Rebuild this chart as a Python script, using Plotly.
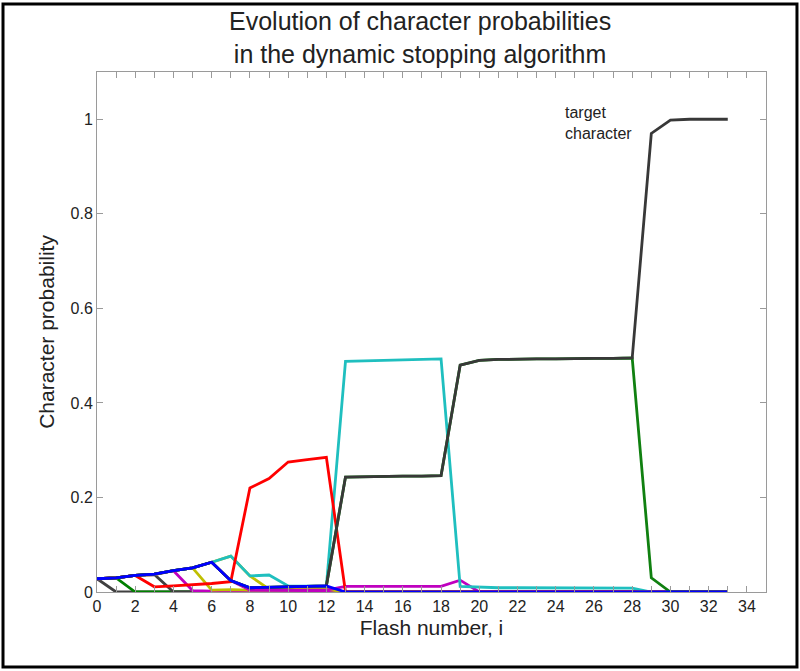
import plotly.graph_objects as go

# flash number i = 0 .. 33
flash = list(range(34))

# character probabilities, one list per character
k_first  = [0.028, 0.0, 0.0, 0.0, 0.0, 0.0, 0.0, 0.0, 0.0, 0.0, 0.0, 0.0, 0.0, 0.0, 0.0, 0.0, 0.0,
            0.0, 0.0, 0.0, 0.0, 0.0, 0.0, 0.0, 0.0, 0.0, 0.0, 0.0, 0.0, 0.0, 0.0, 0.0, 0.0, 0.0]
g_first  = [0.028, 0.030, 0.0, 0.0, 0.0, 0.0, 0.0, 0.0, 0.0, 0.0, 0.0, 0.0, 0.0, 0.0, 0.0, 0.0, 0.0,
            0.0, 0.0, 0.0, 0.0, 0.0, 0.0, 0.0, 0.0, 0.0, 0.0, 0.0, 0.0, 0.0, 0.0, 0.0, 0.0, 0.0]
r_char   = [0.028, 0.030, 0.035, 0.011, 0.013, 0.015, 0.018, 0.022, 0.220, 0.240, 0.275, 0.280, 0.285,
            0.0, 0.0, 0.0, 0.0, 0.0, 0.0, 0.0, 0.0, 0.0, 0.0, 0.0, 0.0, 0.0, 0.0, 0.0, 0.0, 0.0, 0.0, 0.0, 0.0, 0.0]
k_second = [0.028, 0.030, 0.035, 0.037, 0.0, 0.0, 0.0, 0.0, 0.0, 0.0, 0.0, 0.0, 0.0, 0.0, 0.0, 0.0, 0.0,
            0.0, 0.0, 0.0, 0.0, 0.0, 0.0, 0.0, 0.0, 0.0, 0.0, 0.0, 0.0, 0.0, 0.0, 0.0, 0.0, 0.0]
m_first  = [0.028, 0.030, 0.035, 0.037, 0.045, 0.003, 0.002, 0.002, 0.002, 0.002, 0.002, 0.002, 0.002,
            0.0, 0.0, 0.0, 0.0, 0.0, 0.0, 0.0, 0.0, 0.0, 0.0, 0.0, 0.0, 0.0, 0.0, 0.0, 0.0, 0.0, 0.0, 0.0, 0.0, 0.0]
y_first  = [0.028, 0.030, 0.035, 0.037, 0.045, 0.051, 0.004, 0.005, 0.004, 0.004, 0.005, 0.005, 0.006,
            0.0, 0.0, 0.0, 0.0, 0.0, 0.0, 0.0, 0.0, 0.0, 0.0, 0.0, 0.0, 0.0, 0.0, 0.0, 0.0, 0.0, 0.0, 0.0, 0.0, 0.0]
c_char   = [0.028, 0.030, 0.035, 0.038, 0.045, 0.051, 0.063, 0.076, 0.034, 0.036, 0.013, 0.012, 0.012,
            0.488, 0.489, 0.490, 0.491, 0.492, 0.493, 0.012, 0.010, 0.009, 0.009, 0.009, 0.009, 0.008,
            0.008, 0.008, 0.008, 0.0, 0.0, 0.0, 0.0, 0.0]
y_second = [0.028, 0.030, 0.035, 0.038, 0.045, 0.051, 0.063, 0.076, 0.034, 0.006, 0.007, 0.007, 0.008,
            0.0, 0.0, 0.0, 0.0, 0.0, 0.0, 0.0, 0.0, 0.0, 0.0, 0.0, 0.0, 0.0, 0.0, 0.0, 0.0, 0.0, 0.0, 0.0, 0.0, 0.0]
m_second = [0.028, 0.030, 0.035, 0.038, 0.045, 0.051, 0.063, 0.024, 0.004, 0.004, 0.004, 0.004, 0.004,
            0.012, 0.012, 0.012, 0.012, 0.012, 0.012, 0.025, 0.0, 0.0, 0.0, 0.0, 0.0, 0.0, 0.0, 0.0,
            0.0, 0.0, 0.0, 0.0, 0.0, 0.0]
g_second = [0.028, 0.030, 0.035, 0.038, 0.045, 0.051, 0.063, 0.024, 0.009, 0.010, 0.012, 0.012, 0.013,
            0.243, 0.244, 0.244, 0.245, 0.245, 0.246, 0.480, 0.490, 0.492, 0.493, 0.493, 0.493, 0.494,
            0.494, 0.494, 0.495, 0.030, 0.0, 0.0, 0.0, 0.0]
target   = [0.028, 0.030, 0.035, 0.038, 0.045, 0.051, 0.063, 0.024, 0.009, 0.010, 0.012, 0.012, 0.013,
            0.243, 0.244, 0.244, 0.245, 0.245, 0.246, 0.480, 0.490, 0.492, 0.493, 0.493, 0.493, 0.494,
            0.494, 0.494, 0.495, 0.970, 0.998, 1.000, 1.000, 1.000]
b_char   = [0.028, 0.030, 0.035, 0.038, 0.045, 0.051, 0.063, 0.024, 0.009, 0.010, 0.012, 0.012, 0.013,
            0.0, 0.0, 0.0, 0.0, 0.0, 0.0, 0.0, 0.0, 0.0, 0.0, 0.0, 0.0, 0.0, 0.0, 0.0, 0.0, 0.0, 0.0, 0.0, 0.0, 0.0]

# tick marks at every flash, labels on the even ones
x_tickvals = list(range(35))
x_ticktext = [str(v) if v % 2 == 0 else "" for v in x_tickvals]
y_ticks = [0, 0.2, 0.4, 0.6, 0.8, 1]

series = [
    (k_first, "#404040"),
    (g_first, "#008000"),
    (k_second, "#404040"),
    (m_first, "#bf00bf"),
    (y_first, "#bfbf00"),
    (y_second, "#bfbf00"),
    (m_second, "#bf00bf"),
    (c_char, "#1fbfbf"),
    (r_char, "#ff0000"),
    (g_second, "#108010"),
    (target, "#383838"),
    (b_char, "#0000ff"),
]

fig = go.Figure()
for vals, col in series:
    fig.add_trace(go.Scatter(x=flash, y=vals, mode="lines",
                             line=dict(color=col, width=2.8), showlegend=False))

fig.add_annotation(x=24.4, y=0.992, xref="x", yref="y", text="target<br>character",
                   showarrow=False, xanchor="left", yanchor="middle", align="left",
                   font=dict(size=16, color="#222", family="Liberation Sans"))

fig.add_annotation(x=0.483, y=1.067, xref="paper", yref="paper", yanchor="middle",
                   text="Evolution of character probabilities<br>in the dynamic stopping algorithm",
                   showarrow=False, font=dict(size=25, color="#222", family="Liberation Sans"))

# black frame round the whole figure
fig.add_shape(type="rect", xref="paper", yref="paper",
              x0=-0.1405, x1=1.0463, y0=-0.1442, y1=1.1308,
              line=dict(color="black", width=3))

axis_common = dict(showgrid=False, zeroline=False, showline=True, linecolor="#9a9a9a",
                   linewidth=1, mirror="ticks", ticks="inside", tickcolor="#9a9a9a",
                   ticklen=6, tickfont=dict(size=16, color="#222", family="Liberation Sans"))

fig.update_xaxes(range=[0, 35], tickvals=x_tickvals, ticktext=x_ticktext,
                 title=dict(text="Flash number, i", standoff=6,
                            font=dict(size=21, color="#222", family="Liberation Sans")),
                 **axis_common)
fig.update_yaxes(range=[0, 1.1], tickvals=y_ticks,
                 title=dict(text="Character probability", standoff=10,
                            font=dict(size=21, color="#222", family="Liberation Sans")),
                 **axis_common)

fig.update_layout(width=800, height=671, plot_bgcolor="white", paper_bgcolor="white",
                  margin=dict(l=97, r=34, t=72, b=79))

fig.write_html("out.html", config={"displayModeBar": False},
               post_script="document.body.style.margin='0px';")
